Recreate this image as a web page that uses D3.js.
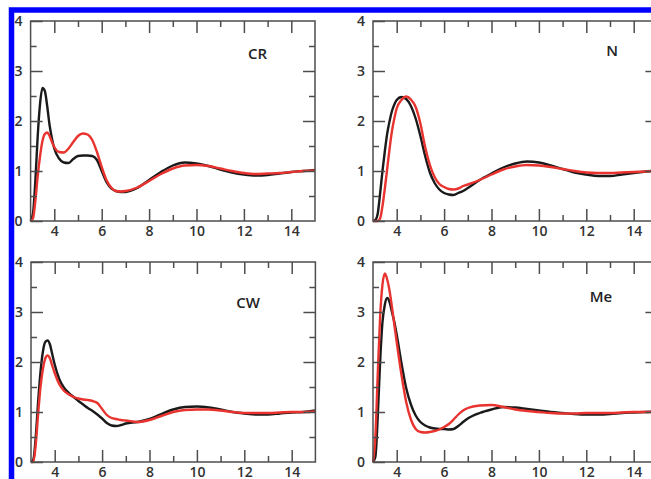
<!DOCTYPE html>
<html>
<head>
<meta charset="utf-8">
<script src="https://cdn.jsdelivr.net/npm/d3@7"></script>
<style>
  body { margin: 0; background: #fff; }
  svg { display: block; }
</style>
</head>
<body>
<div id="chart"></div>
<script>
// r grid shared by all the curves
var rGrid = [3.0, 3.1, 3.2, 3.3, 3.4, 3.5, 3.6, 3.7, 3.8, 3.9, 4.0,
    4.2, 4.4, 4.6, 4.8, 5.0, 5.2, 5.4, 5.6, 5.8, 6.0, 6.2, 6.4, 6.6, 6.8, 7.0,
    7.5, 8.0, 8.5, 9.0, 9.5, 10.0, 10.5, 11.0, 11.5, 12.0, 12.5, 13.0, 13.5, 14.0, 14.5, 15.0];

var crBlack = [0, 0.15, 0.8, 1.7, 2.35, 2.66, 2.6, 2.3, 1.92, 1.65, 1.45,
    1.25, 1.17, 1.16, 1.24, 1.3, 1.31, 1.31, 1.3, 1.22, 1.0, 0.78, 0.65, 0.6, 0.58, 0.58,
    0.66, 0.82, 0.98, 1.11, 1.17, 1.15, 1.1, 1.03, 0.97, 0.93, 0.91, 0.92, 0.95, 0.98, 1.0, 1.02];
var crRed = [0, 0.05, 0.4, 0.9, 1.3, 1.6, 1.74, 1.77, 1.7, 1.58, 1.48,
    1.38, 1.37, 1.45, 1.58, 1.7, 1.75, 1.73, 1.62, 1.38, 1.08, 0.82, 0.67, 0.6, 0.59, 0.6,
    0.67, 0.8, 0.94, 1.05, 1.11, 1.12, 1.1, 1.05, 1.0, 0.96, 0.94, 0.95, 0.96, 0.98, 1.0, 1.01];

var nBlack = [0, 0.02, 0.15, 0.55, 1.0, 1.4, 1.75, 2.0, 2.2, 2.33, 2.42,
    2.48, 2.44, 2.3, 2.05, 1.7, 1.3, 0.97, 0.76, 0.63, 0.56, 0.53, 0.52, 0.56, 0.6, 0.66,
    0.82, 0.95, 1.07, 1.15, 1.19, 1.17, 1.11, 1.04, 0.97, 0.93, 0.9, 0.9, 0.93, 0.96, 0.99, 1.01];
var nRed = [0, 0, 0, 0.05, 0.3, 0.65, 1.05, 1.45, 1.8, 2.05, 2.25,
    2.42, 2.49, 2.43, 2.28, 1.95, 1.48, 1.12, 0.88, 0.74, 0.68, 0.64, 0.63, 0.65, 0.7, 0.73,
    0.82, 0.93, 1.03, 1.09, 1.12, 1.11, 1.08, 1.04, 1.0, 0.97, 0.96, 0.96, 0.97, 0.98, 0.99, 1.0];

var cwBlack = [0, 0.05, 0.5, 1.2, 1.8, 2.2, 2.4, 2.43, 2.35, 2.15, 1.95,
    1.65, 1.48, 1.38, 1.3, 1.22, 1.15, 1.08, 1.02, 0.95, 0.87, 0.78, 0.73, 0.72, 0.74, 0.77,
    0.8, 0.86, 0.96, 1.05, 1.1, 1.11, 1.09, 1.05, 1.0, 0.97, 0.95, 0.95, 0.97, 0.99, 1.0, 1.03];
var cwRed = [0, 0, 0.35, 0.95, 1.5, 1.85, 2.07, 2.13, 2.07, 1.92, 1.78,
    1.55, 1.42, 1.35, 1.3, 1.27, 1.25, 1.24, 1.22, 1.18, 1.06, 0.94, 0.88, 0.86, 0.84, 0.83,
    0.8, 0.84, 0.92, 1.0, 1.04, 1.05, 1.05, 1.03, 1.0, 0.98, 0.98, 0.98, 0.99, 1.0, 1.0, 1.01];

var meBlack = [0, 0.1, 0.9, 2.0, 2.8, 3.15, 3.28, 3.2, 3.0, 2.8, 2.55,
    1.98, 1.48, 1.15, 0.93, 0.8, 0.73, 0.69, 0.67, 0.66, 0.66, 0.65, 0.66, 0.72, 0.8, 0.87,
    0.98, 1.05, 1.1, 1.09, 1.06, 1.03, 1.0, 0.98, 0.96, 0.95, 0.95, 0.96, 0.98, 0.99, 1.0, 1.01];
var meRed = [0, 0.5, 1.75, 2.9, 3.55, 3.77, 3.65, 3.42, 3.1, 2.75, 2.4,
    1.75, 1.2, 0.85, 0.66, 0.6, 0.59, 0.6, 0.62, 0.65, 0.7, 0.76, 0.85, 0.95, 1.03, 1.08,
    1.13, 1.14, 1.1, 1.05, 1.02, 1.0, 0.98, 0.97, 0.97, 0.98, 0.98, 0.98, 0.99, 1.0, 1.0, 1.0];

var panelNames = ["CR", "N", "CW", "Me"];
var xMajor = [4, 6, 8, 10, 12, 14];
var xMinor = [5, 7, 9, 11, 13];
var yMajor = [0, 1, 2, 3, 4];
var yMinor = [0.5, 1.5, 2.5, 3.5];

var series = {
    CR: [crBlack, crRed],
    N: [nBlack, nRed],
    CW: [cwBlack, cwRed],
    Me: [meBlack, meRed]
};

// layout (pixels)
var W = 651, H = 479;
var pw = 284.4, ph = 200;
var panelPos = [[30.6, 21], [373, 21], [31, 262], [373, 262]];
var labelPos = [[227, 38], [239, 35], [217, 46], [228, 40]];
var lineColors = ["#1a1a1a", "#e8332f"];
var axisColor = "#4d4d4d";
var font = "'Open Sans', 'Noto Sans', sans-serif";

var svg = d3.select("#chart").append("svg")
    .attr("width", W)
    .attr("height", H);

svg.append("rect").attr("width", W).attr("height", H).attr("fill", "#fff");

var x = d3.scaleLinear().domain([3, 15]).range([0, pw]);
var y = d3.scaleLinear().domain([0, 4]).range([ph, 0]);

var line = d3.line()
    .x(function (d) { return x(d[0]); })
    .y(function (d) { return y(d[1]); })
    .curve(d3.curveMonotoneX);

panelNames.forEach(function (name, i) {
    var g = svg.append("g")
        .attr("transform", "translate(" + panelPos[i][0] + "," + panelPos[i][1] + ")");

    // curves
    series[name].forEach(function (vals, k) {
        g.append("path")
            .datum(rGrid.map(function (r, j) { return [r, vals[j]]; }))
            .attr("d", line)
            .attr("fill", "none")
            .attr("stroke", lineColors[k])
            .attr("stroke-width", 2.4)
            .attr("stroke-linejoin", "round");
    });

    // frame
    g.append("rect")
        .attr("width", pw).attr("height", ph)
        .attr("fill", "none")
        .attr("stroke", axisColor)
        .attr("stroke-width", 1.5);

    // axes, ticks pointing inward
    g.append("g").attr("transform", "translate(0," + ph + ")")
        .call(d3.axisBottom(x).tickValues(xMajor).tickSize(-12).tickSizeOuter(0)
            .tickPadding(5).tickFormat(d3.format("d")));
    g.append("g").attr("transform", "translate(0," + ph + ")")
        .call(d3.axisBottom(x).tickValues(xMinor).tickSize(-6).tickSizeOuter(0).tickFormat(""));
    g.append("g")
        .call(d3.axisTop(x).tickValues(xMajor).tickSize(-12).tickSizeOuter(0).tickFormat(""));
    g.append("g")
        .call(d3.axisTop(x).tickValues(xMinor).tickSize(-6).tickSizeOuter(0).tickFormat(""));
    g.append("g")
        .call(d3.axisLeft(y).tickValues(yMajor).tickSize(-12).tickSizeOuter(0)
            .tickPadding(8).tickFormat(d3.format("d")));
    g.append("g")
        .call(d3.axisLeft(y).tickValues(yMinor).tickSize(-6).tickSizeOuter(0).tickFormat(""));
    g.append("g").attr("transform", "translate(" + pw + ",0)")
        .call(d3.axisRight(y).tickValues([1, 2, 3]).tickSize(-12).tickSizeOuter(0).tickFormat(""));
    g.append("g").attr("transform", "translate(" + pw + ",0)")
        .call(d3.axisRight(y).tickValues(yMinor).tickSize(-6).tickSizeOuter(0).tickFormat(""));

    g.selectAll(".domain").remove();
    g.selectAll(".tick line").attr("stroke", axisColor).attr("stroke-width", 1.5);
    g.selectAll(".tick text")
        .attr("fill", "#333")
        .style("font-family", font)
        .style("font-weight", 600)
        .style("font-size", "14px");

    g.append("text")
        .attr("x", labelPos[i][0])
        .attr("y", labelPos[i][1])
        .attr("text-anchor", "middle")
        .attr("fill", "#222")
        .style("font-family", font)
        .style("font-weight", 600)
        .style("font-size", "15px")
        .text(name);
});

// blue frame of the screenshot
svg.append("rect")
    .attr("x", 11.5).attr("y", 10)
    .attr("width", 800).attr("height", 600)
    .attr("fill", "none")
    .attr("stroke", "#0000ff")
    .attr("stroke-width", 5.5);
</script>
</body>
</html>
